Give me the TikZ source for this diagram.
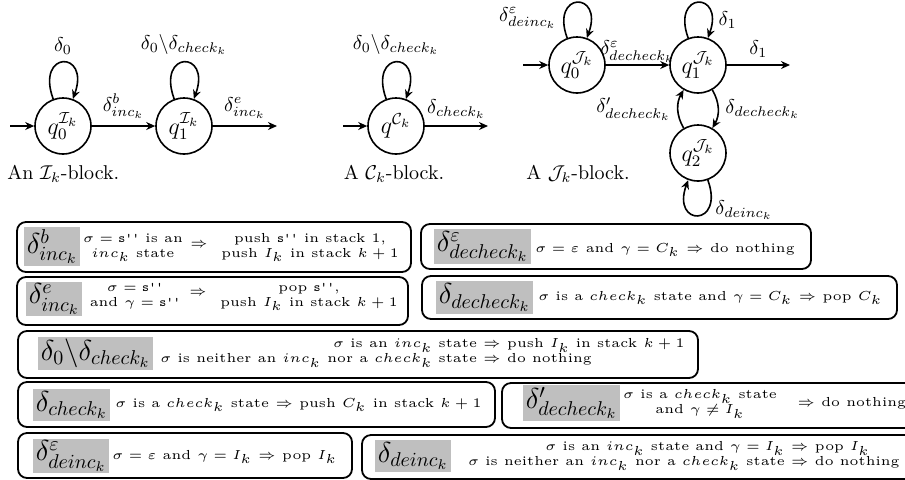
\documentclass[tikz,border=0pt]{standalone}
\usepackage{graphicx}
\usetikzlibrary{arrows.meta}
\newcommand{\bsc}{1.31}
\newcommand{\bt}[1]{\scalebox{\bsc}{\tiny\renewcommand{\arraystretch}{0.95}#1}}
\tikzset{
  st/.style={circle, draw, thick, minimum size=28pt, inner sep=0pt, font=\large},
  tr/.style={-{Stealth[length=4.5pt,width=4pt]}, thick},
  bx/.style={draw, line width=0.9pt, rounded corners=4.5pt, inner sep=0pt, outer sep=0pt, anchor=north west},
  gr/.style={fill=gray!50, inner sep=1.2pt, font=\Large},
  captxt/.style={inner sep=0pt},
  txt/.style={inner sep=0pt}
}
\begin{document}
\begin{tikzpicture}[x=0.5pt,y=0.5pt]
\clip (0,0) rectangle (905,-479);
\useasboundingbox (0,0) rectangle (905,-479);

% ---------------- I_k block
\node[st] (iq0) at (63,-126) {$q_0^{\mathcal{I}_k}$};
\node[st] (iq1) at (184,-126) {$q_1^{\mathcal{I}_k}$};
\coordinate (iin) at (10,-126);
\coordinate (iout) at (277,-126);
\draw[tr] (iin) -- (iq0);
\draw[tr] (iq0) -- node[above] {$\delta^b_{inc_k}$} (iq1);
\draw[tr] (iq1) -- node[above] {$\delta^e_{inc_k}$} (iout);
\draw[tr] (iq0.110) .. controls +(110:26pt) and +(70:26pt) .. node[above] {$\delta_0$} (iq0.70);
\draw[tr] (iq1.110) .. controls +(110:26pt) and +(70:26pt) .. node[above] {$\delta_0\backslash\delta_{check_k}$} (iq1.70);
\node[captxt, anchor=west] (icap) at (7,-174) {An $\mathcal{I}_k$-block.};

% ---------------- C_k block
\node[st] (cq) at (396,-126) {$q^{\mathcal{C}_k}$};
\coordinate (cin) at (343,-126);
\coordinate (cout) at (488,-126);
\draw[tr] (cin) -- (cq);
\draw[tr] (cq) -- node[above] {$\delta_{check_k}$} (cout);
\draw[tr] (cq.110) .. controls +(110:26pt) and +(70:26pt) .. node[above] {$\delta_0\backslash\delta_{check_k}$} (cq.70);
\node[captxt] (ccap) at (394,-174) {A $\mathcal{C}_k$-block.};

% ---------------- J_k block
\node[st] (jq0) at (577,-65) {$q_0^{\mathcal{J}_k}$};
\node[st] (jq1) at (698,-65) {$q_1^{\mathcal{J}_k}$};
\node[st] (jq2) at (698,-153) {$q_2^{\mathcal{J}_k}$};
\coordinate (jin) at (523,-65);
\coordinate (jout) at (790,-65);
\draw[tr] (jin) -- (jq0);
\draw[tr] (jq0) -- node[above, inner sep=1pt] {$\delta^{\varepsilon}_{decheck_k}$} (jq1);
\draw[tr] (jq1) -- node[above] {$\delta_1$} (jout);
\draw[tr] (jq0.110) .. controls +(110:25pt) and +(70:25pt) .. node[pos=0.17, left] {$\delta^{\varepsilon}_{deinc_k}$} (jq0.70);
\draw[tr] (jq1.110) .. controls +(110:25pt) and +(70:25pt) .. node[pos=0.85, right] {$\delta_1$} (jq1.70);
\draw[tr] (jq1) to[bend left=30] node[right] {$\delta_{decheck_k}$} (jq2);
\draw[tr] (jq2) to[bend left=30] node[left] {$\delta'_{decheck_k}$} (jq1);
\draw[tr] (jq2.-70) .. controls +(-70:25pt) and +(-110:25pt) .. node[pos=0.3, right] {$\delta_{deinc_k}$} (jq2.-110);
\node[captxt] (jcap) at (578,-174) {A $\mathcal{J}_k$-block.};

% ---------------- boxes
\node[bx, minimum width=197pt, minimum height=25pt] (b1) at (17,-222) {};
\node[gr, anchor=west] (g1) at (24,-246.5) {$\delta^b_{inc_k}$};
\node[txt] (t1a) at (133,-247) {\bt{\begin{tabular}{@{}c@{}}$\sigma=\texttt{s''}$ is an\\ $inc_k$ state\end{tabular}}};
\node[txt] (t1b) at (199,-245) {\bt{$\Rightarrow$}};
\node[txt] (t1c) at (310,-247) {\bt{\begin{tabular}{@{}c@{}}push \texttt{s''} in stack 1,\\ push $I_k$ in stack $k+1$\end{tabular}}};

\node[bx, minimum width=195.5pt, minimum height=24pt] (b2) at (17,-277) {};
\node[gr, anchor=west] (g2) at (26,-299) {$\delta^e_{inc_k}$};
\node[txt] (t2a) at (135,-296) {\bt{\begin{tabular}{@{}c@{}}$\sigma=\texttt{s''}$\\ and $\gamma=\texttt{s''}$\end{tabular}}};
\node[txt] (t2b) at (198,-293) {\bt{$\Rightarrow$}};
\node[txt] (t2c) at (309,-296) {\bt{\begin{tabular}{@{}c@{}}pop \texttt{s''},\\ push $I_k$ in stack $k+1$\end{tabular}}};

\node[bx, minimum width=340pt, minimum height=23.5pt] (b3) at (18,-331) {};
\node[gr, anchor=west] (g3) at (38,-353.5) {$\delta_0\backslash\delta_{check_k}$};
\node[txt, anchor=east] (t3) at (685,-352) {\bt{\begin{tabular}{@{}r@{\ }c@{\ }l@{}}$\sigma$ is an $inc_k$ state & $\Rightarrow$ & push $I_k$ in stack $k+1$\\ $\sigma$ is neither an $inc_k$ nor a $check_k$ state & $\Rightarrow$ & do nothing\end{tabular}}};

\node[bx, minimum width=238.5pt, minimum height=22.5pt] (b4) at (18,-382) {};
\node[gr, anchor=west] (g4) at (33,-405) {$\delta_{check_k}$};
\node[txt, anchor=west] (t4) at (115,-405) {\bt{$\sigma$ is a $check_k$ state $\Rightarrow$ push $C_k$ in stack $k+1$}};

\node[bx, minimum width=167pt, minimum height=22.5pt] (b5) at (18,-433) {};
\node[gr, anchor=west] (g5) at (33,-456) {$\delta^{\varepsilon}_{deinc_k}$};
\node[txt, anchor=west] (t5) at (112,-457) {\bt{$\sigma=\varepsilon$ and $\gamma=I_k$ $\Rightarrow$ pop $I_k$}};

\node[bx, minimum width=195pt, minimum height=22.5pt] (b6) at (421,-224) {};
\node[gr, anchor=west] (g6) at (434,-246.5) {$\delta^{\varepsilon}_{decheck_k}$};
\node[txt, anchor=west] (t6) at (535,-250) {\bt{$\sigma=\varepsilon$ and $\gamma=C_k$ $\Rightarrow$ do nothing}};

\node[bx, minimum width=237.5pt, minimum height=21.5pt] (b7) at (422,-276) {};
\node[gr, anchor=west] (g7) at (436,-297.5) {$\delta_{decheck_k}$};
\node[txt, anchor=west] (t7) at (538,-298) {\bt{$\sigma$ is a $check_k$ state and $\gamma=C_k$ $\Rightarrow$ pop $C_k$}};

\node[bx, minimum width=215pt, minimum height=22.5pt] (b8) at (502,-383) {};
\node[gr, anchor=west] (g8) at (523,-403) {$\delta'_{decheck_k}$};
\node[txt] (t8a) at (700,-403) {\bt{\begin{tabular}{@{}c@{}}$\sigma$ is a $check_k$ state\\ and $\gamma\neq I_k$\end{tabular}}};
\node[txt, anchor=west] (t8b) at (797,-403) {\bt{$\Rightarrow$ do nothing}};

\node[bx, minimum width=285pt, minimum height=22pt] (b9) at (362,-435) {};
\node[gr, anchor=west] (g9) at (375,-456) {$\delta_{deinc_k}$};
\node[txt, anchor=east] (t9) at (900,-455) {\bt{\begin{tabular}{@{}r@{\ }c@{\ }l@{}}$\sigma$ is an $inc_k$ state and $\gamma=I_k$ & $\Rightarrow$ & pop $I_k$\\ $\sigma$ is neither an $inc_k$ nor a $check_k$ state & $\Rightarrow$ & do nothing\end{tabular}}};
\end{tikzpicture}
\end{document}
